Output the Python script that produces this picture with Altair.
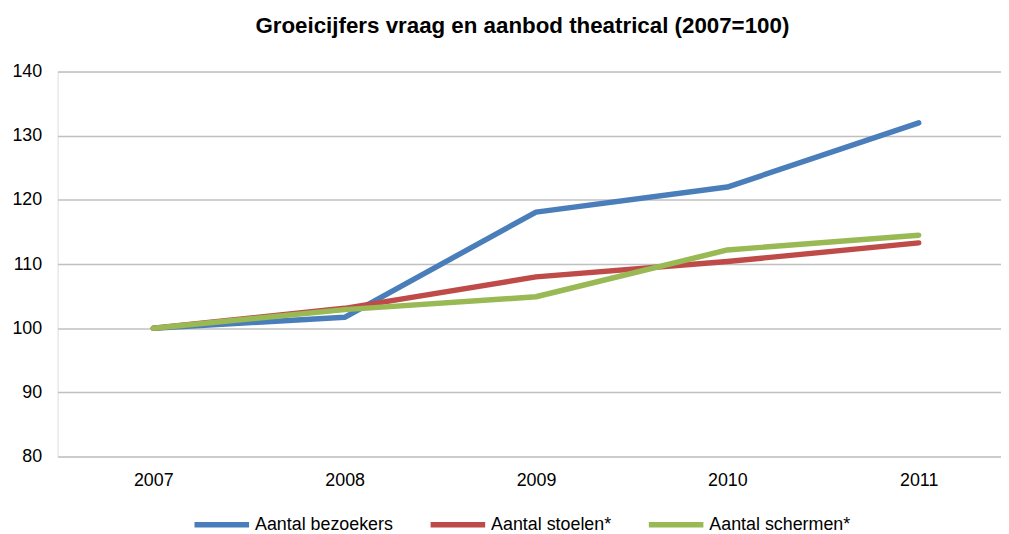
import altair as alt
import pandas as pd

years = [2007, 2008, 2009, 2010, 2011]
series = ["Aantal bezoekers", "Aantal stoelen*", "Aantal schermen*"]
bezoekers = [100, 101.7, 118.1, 122.0, 132.0]
stoelen = [100, 103.1, 108.0, 110.4, 113.3]
schermen = [100, 102.9, 104.9, 112.2, 114.5]
colors = ["#4a7ebb", "#be4b48", "#98b954"]

rows = []
for i, (name, vals) in enumerate(zip(series, [bezoekers, stoelen, schermen])):
    for y, v in zip(years, vals):
        rows.append({"jaar": y, "waarde": v, "reeks": name, "volgorde": i})
df = pd.DataFrame(rows)

FONT = "Liberation Sans"

chart = alt.Chart(df).mark_line(strokeWidth=5.5, strokeCap="round", strokeJoin="round").encode(
    x=alt.X("jaar:Q", scale=alt.Scale(domain=[2006.5, 2011.43], nice=False, zero=False),
            axis=alt.Axis(title=None, values=years, format="d", labelAngle=0, ticks=False, domain=False,
                          grid=False, labelFontSize=18, labelPadding=15, labelColor="#000000",
                          labelFont=FONT)),
    y=alt.Y("waarde:Q", scale=alt.Scale(domain=[80, 140], nice=False, zero=False),
            axis=alt.Axis(title=None, values=[80, 90, 100, 110, 120, 130, 140], ticks=False, domain=False,
                          labelFontSize=18, labelPadding=16, labelColor="#000000", labelFont=FONT,
                          gridColor="#c0c0c0", gridWidth=1.5)),
    color=alt.Color("reeks:N", scale=alt.Scale(domain=series, range=colors),
                    legend=alt.Legend(title=None, orient="none", direction="horizontal",
                                      legendX=135, legendY=426,
                                      symbolType="stroke", symbolSize=3025, symbolStrokeWidth=5.5,
                                      labelFontSize=18, labelFont=FONT, labelColor="#000000",
                                      labelOffset=3, columnPadding=26)),
    order=alt.Order("volgorde:Q"),
    detail="reeks:N",
).properties(
    width=951, height=388,
    autosize="none",
    padding={"left": 50, "top": 62, "right": 0, "bottom": 76},
    title=alt.TitleParams("Groeicijfers vraag en aanbod theatrical (2007=100)",
                          font=FONT, fontSize=22.5, fontWeight="bold", color="#000000",
                          anchor="middle", dx=-7, offset=25),
).configure_view(stroke=None).configure(background="white")

chart.save("out.html", embed_options={"renderer": "svg", "actions": False})
